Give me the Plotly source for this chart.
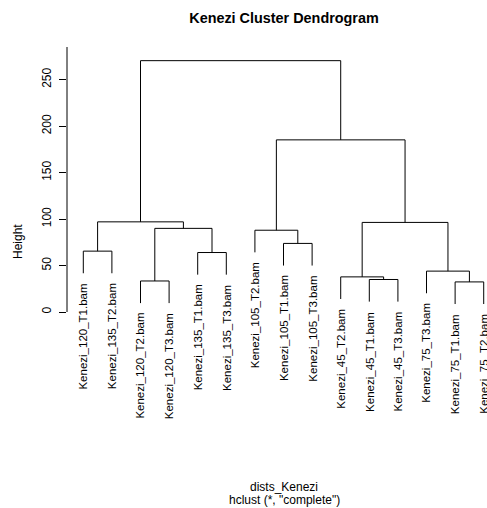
import plotly.graph_objects as go

# Leaf labels in dendrogram display order
labels = [
    "Kenezi_120_T1.bam", "Kenezi_135_T2.bam", "Kenezi_120_T2.bam",
    "Kenezi_120_T3.bam", "Kenezi_135_T1.bam", "Kenezi_135_T3.bam",
    "Kenezi_105_T2.bam", "Kenezi_105_T1.bam", "Kenezi_105_T3.bam",
    "Kenezi_45_T2.bam", "Kenezi_45_T1.bam", "Kenezi_45_T3.bam",
    "Kenezi_75_T3.bam", "Kenezi_75_T1.bam", "Kenezi_75_T2.bam",
]

# hclust-style merge table: negative = leaf (1-based), positive = earlier merge step
merge_left = [-14, -3, -11, -10, -13, -5, -1, -8, -7, 2, 4, 7, 9, 12]
merge_right = [-15, -4, -12, 3, 1, -6, -2, -9, 8, 6, 5, 10, 11, 13]
merge_height = [32.4, 33.4, 35.0, 37.8, 44.0, 64.0, 65.5, 73.8, 88.0, 90.0,
                96.4, 97.0, 185.2, 270.4]

y_ticks = [0, 50, 100, 150, 200, 250]

hang = 0.1 * (max(merge_height) - min(merge_height))

# leaf x positions follow display order
leaf_x = {i + 1: i + 1 for i in range(len(labels))}
node_x = {}
xs, ys = [], []
leaf_end = {}


def child_xy(c, h):
    if c < 0:
        y = h - hang
        leaf_end[-c] = y
        return leaf_x[-c], y
    return node_x[c], merge_height[c - 1]


for k, (a, b, h) in enumerate(zip(merge_left, merge_right, merge_height), start=1):
    xa, ya = child_xy(a, h)
    xb, yb = child_xy(b, h)
    node_x[k] = (xa + xb) / 2
    xs += [xa, xa, xb, xb, None]
    ys += [ya, h, h, yb, None]

fig = go.Figure()
fig.add_trace(go.Scatter(x=xs, y=ys, mode="lines",
                         line=dict(color="black", width=1),
                         hoverinfo="skip", showlegend=False))

font_main = "Liberation Sans, Arial, Helvetica, sans-serif"

annotations = []
for i, lab in enumerate(labels, start=1):
    annotations.append(dict(
        x=leaf_x[i], y=leaf_end[i], xref="x", yref="y",
        text=lab, textangle=-90, showarrow=False,
        xanchor="center", yanchor="top", yshift=-8,
        font=dict(family=font_main, size=11.5, color="black"),
    ))

# y-axis title
annotations.append(dict(
    x=0, y=0.5125, xref="paper", yref="paper", xshift=-49,
    text="Height", textangle=-90, showarrow=False,
    xanchor="center", yanchor="middle",
    font=dict(family=font_main, size=12, color="black"),
))
# sub titles below the plot
annotations.append(dict(
    x=0.5167, y=0, xref="paper", yref="paper", yshift=-40,
    text="dists_Kenezi", showarrow=False,
    xanchor="center", yanchor="middle",
    font=dict(family=font_main, size=12, color="black"),
))
annotations.append(dict(
    x=0.5167, y=0, xref="paper", yref="paper", yshift=-53,
    text='hclust (*, "complete")', showarrow=False,
    xanchor="center", yanchor="middle",
    font=dict(family=font_main, size=12, color="black"),
))

fig.update_layout(
    width=487, height=508,
    margin=dict(l=67, r=0, t=47, b=61),
    paper_bgcolor="white", plot_bgcolor="white",
    title=dict(text="<b>Kenezi Cluster Dendrogram</b>", x=284 / 487, xref="container",
               xanchor="center", y=1 - 18 / 508, yref="container", yanchor="middle",
               font=dict(family=font_main, size=14.4, color="black")),
    xaxis=dict(range=[0.43, 15.115], visible=False, fixedrange=True),
    yaxis=dict(range=[-145.2, 285.1], tickvals=y_ticks,
               ticktext=[str(v) for v in y_ticks],
               ticks="outside", ticklen=7, tickcolor="black", tickwidth=1,
               tickangle=-90, ticklabelstandoff=3,
               showgrid=False, zeroline=False, showline=False,
               tickfont=dict(family=font_main, size=12, color="black"),
               fixedrange=True),
    annotations=annotations,
    shapes=[dict(type="line", xref="paper", yref="y", x0=0, x1=0, y0=0, y1=285.1,
                 line=dict(color="black", width=1))],
)

fig.write_html("out.html")
